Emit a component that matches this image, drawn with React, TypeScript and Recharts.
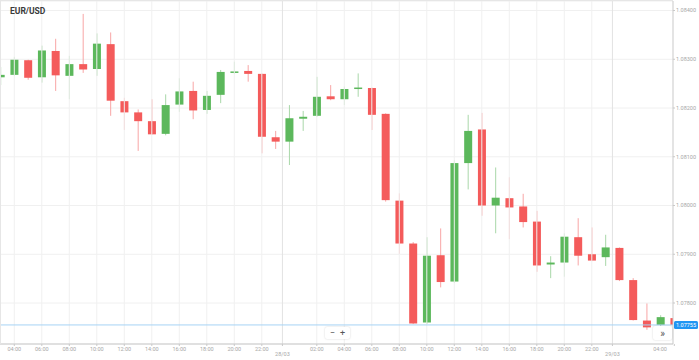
import React from "react";
import {
  ComposedChart,
  Bar,
  XAxis,
  YAxis,
  CartesianGrid,
  ReferenceLine,
} from "recharts";

// ─── Data ─────────────────────────────────────────────────────────────────────

// hourly candles, 27/03 03:00 → 29/03 04:00
const HOURS = [
  "03:00", "04:00", "05:00", "06:00", "07:00", "08:00", "09:00", "10:00",
  "11:00", "12:00", "13:00", "14:00", "15:00", "16:00", "17:00", "18:00",
  "19:00", "20:00", "21:00", "22:00", "23:00",
  "00:00", "01:00", "02:00", "03:00", "04:00", "05:00", "06:00", "07:00",
  "08:00", "09:00", "10:00", "11:00", "12:00", "13:00", "14:00", "15:00",
  "16:00", "17:00", "18:00", "19:00", "20:00", "21:00", "22:00", "23:00",
  "00:00", "01:00", "02:00", "03:00", "04:00",
];

const DATES = ["28/03", "29/03"];

const OPEN = [
  1.08263, 1.08268, 1.08298, 1.08263, 1.08317, 1.08266, 1.0829, 1.0828,
  1.08331, 1.08214, 1.08191, 1.08173, 1.08147, 1.08207, 1.08235, 1.08196,
  1.08227, 1.08273, 1.08276, 1.0827, 1.0814, 1.08131, 1.08178, 1.08184,
  1.08224, 1.08218, 1.0824, 1.08241, 1.08188, 1.0801, 1.07922, 1.0776,
  1.07898, 1.07844, 1.08087, 1.08156, 1.08, 1.08015, 1.07998, 1.07967,
  1.07879, 1.07883, 1.07935, 1.079, 1.07894, 1.07913, 1.07847, 1.07764,
  1.07755, 1.07769,
];

const HIGH = [
  1.08284, 1.08305, 1.08299, 1.08328, 1.08342, 1.08307, 1.08393, 1.08353,
  1.08355, 1.08221, 1.08197, 1.08218, 1.08228, 1.08261, 1.08254, 1.08235,
  1.08278, 1.08295, 1.08288, 1.08271, 1.08153, 1.08206, 1.08194, 1.08264,
  1.08247, 1.08244, 1.08271, 1.08242, 1.08189, 1.08025, 1.07925, 1.07935,
  1.07953, 1.08093, 1.08186, 1.0819, 1.08078, 1.08058, 1.08024, 1.07989,
  1.07896, 1.07943, 1.07974, 1.07955, 1.0794, 1.07914, 1.07851, 1.07799,
  1.07775, 1.07771,
];

const LOW = [
  1.08247, 1.08266, 1.08258, 1.08252, 1.08235, 1.08218, 1.08272, 1.08266,
  1.08184, 1.08155, 1.08112, 1.08145, 1.08144, 1.08192, 1.08177, 1.08188,
  1.0821, 1.0827, 1.08254, 1.08107, 1.08116, 1.08083, 1.08153, 1.08182,
  1.08216, 1.08206, 1.08223, 1.08155, 1.08008, 1.07901, 1.07757, 1.07757,
  1.07832, 1.07841, 1.08033, 1.07979, 1.07943, 1.07931, 1.07955, 1.07864,
  1.07851, 1.07854, 1.07877, 1.07886, 1.07876, 1.07845, 1.07764, 1.07745,
  1.07751, 1.07754,
];

const CLOSE = [
  1.08268, 1.08299, 1.08262, 1.08318, 1.08267, 1.0829, 1.08279, 1.08332,
  1.08215, 1.08191, 1.08173, 1.08146, 1.08206, 1.08234, 1.08195, 1.08225,
  1.08274, 1.08275, 1.0827, 1.08141, 1.08131, 1.08179, 1.08182, 1.08223,
  1.08218, 1.08239, 1.08242, 1.08186, 1.08011, 1.07922, 1.07758, 1.07897,
  1.07843, 1.08087, 1.08153, 1.08, 1.08016, 1.07996, 1.07966, 1.07877,
  1.07883, 1.07936, 1.07897, 1.07887, 1.07914, 1.07847, 1.07765, 1.0775,
  1.07771, 1.07755,
];

const PRICE_TICKS = [1.078, 1.079, 1.08, 1.081, 1.082, 1.083, 1.084];

// even hours (index into HOURS), day boundaries at x.5
const TIME_TICKS = [
  1, 3, 5, 7, 9, 11, 13, 15, 17, 19, 20.5, 23, 25, 27, 29, 31, 33, 35, 37, 39,
  41, 43, 44.5, 49,
];
const DAY_BREAKS = [20.5, 44.5];

const GREEN = "#5cb85c";
const RED = "#f45b5b";
const GREEN_WICK = "#a9d8a9";
const RED_WICK = "#f8a5a5";

const data = HOURS.map((h, i) => ({
  i,
  hour: h,
  open: OPEN[i],
  high: HIGH[i],
  low: LOW[i],
  close: CLOSE[i],
  range: [LOW[i], HIGH[i]],
}));

const last = CLOSE[CLOSE.length - 1];

// ─── Shapes ───────────────────────────────────────────────────────────────────

// eslint-disable-next-line @typescript-eslint/no-explicit-any
function Candle(props: any) {
  const { x, y, width, height, payload } = props;
  if (x == null || y == null) return null;
  const top = Math.min(y, y + height);
  const h = Math.abs(height);
  const { open, close, high, low } = payload;
  const k = high === low ? 0 : h / (high - low);
  const yO = top + (high - open) * k;
  const yC = top + (high - close) * k;
  const up = close >= open;
  const bodyTop = Math.min(yO, yC);
  const bodyH = Math.max(Math.abs(yO - yC), 1.5);
  const cx = x + width / 2;
  return (
    <g>
      <line x1={cx} x2={cx} y1={top} y2={top + h} stroke={up ? GREEN_WICK : RED_WICK} strokeWidth={1} />
      <rect x={x} y={bodyTop} width={width} height={bodyH} fill={up ? GREEN : RED} />
    </g>
  );
}

// eslint-disable-next-line @typescript-eslint/no-explicit-any
function TimeTick(props: any) {
  const { x, y, payload } = props;
  const v = payload.value;
  if (!Number.isInteger(v)) {
    return (
      <text x={x} y={y + 10} textAnchor="middle" fontSize={5.5} fill="#a8a8a8" fontFamily="Roboto">
        {DATES[v < 30 ? 0 : 1]}
      </text>
    );
  }
  return (
    <text x={Math.min(x, 660)} y={y + 4.5} textAnchor="middle" fontSize={5.5} fill="#a8a8a8" fontFamily="Roboto">
      {HOURS[v]}
    </text>
  );
}

// eslint-disable-next-line @typescript-eslint/no-explicit-any
function PriceLabel(props: any) {
  const vb = props.viewBox;
  if (!vb) return null;
  const x = vb.x + vb.width + 1;
  return (
    <g>
      <rect x={x} y={vb.y - 4} width={24} height={8} rx={1.5} fill="#2196f3" />
      <text x={x + 12} y={vb.y + 2} textAnchor="middle" fontSize={5.5} fill="#ffffff" fontFamily="Roboto">
        {last.toFixed(5)}
      </text>
    </g>
  );
}

// ─── Component ────────────────────────────────────────────────────────────────

const btn: React.CSSProperties = {
  position: "absolute",
  background: "#ffffff",
  boxShadow: "0 0 2px rgba(0,0,0,0.18)",
  borderRadius: 2,
  color: "#555",
  fontFamily: "Roboto, sans-serif",
  display: "flex",
  alignItems: "center",
  justifyContent: "center",
};

export default function App() {
  return (
    <div style={{ position: "relative", width: 699, height: 360, background: "#fff", overflow: "hidden" }}>
      <style>{"body{margin:0}"}</style>
      <ComposedChart width={699} height={360} data={data} margin={{ top: 1, right: 0, left: 0, bottom: 0 }}>
        <CartesianGrid stroke="#f0f0f0" vertical={false} />
        <XAxis
          type="number"
          dataKey="i"
          domain={[-0.04, 48.905]}
          allowDataOverflow
          ticks={TIME_TICKS}
          interval={0}
          height={16}
          tickSize={2}
          tickMargin={0}
          tick={<TimeTick />}
          axisLine={{ stroke: "#c9c9c9" }}
          tickLine={{ stroke: "#c9c9c9" }}
        />
        <YAxis
          orientation="right"
          domain={[1.077159, 1.084195]}
          allowDataOverflow
          ticks={PRICE_TICKS}
          width={26}
          tickSize={2}
          tickMargin={1}
          tickFormatter={(v: number) => v.toFixed(5)}
          tick={{ fontSize: 5.5, fill: "#a8a8a8", fontFamily: "Roboto", textAnchor: "start" }}
          axisLine={{ stroke: "#c9c9c9" }}
          tickLine={{ stroke: "#c9c9c9" }}
        />
        {TIME_TICKS.filter((t) => Number.isInteger(t) && t < 48.9).map((t) => (
          <ReferenceLine key={t} x={t} stroke="#f0f0f0" />
        ))}
        {DAY_BREAKS.map((t) => (
          <ReferenceLine key={"d" + t} x={t} stroke="#e2e2e2" />
        ))}
        <Bar dataKey="range" barSize={8} shape={<Candle />} isAnimationActive={false} />
        <ReferenceLine y={last} stroke="#a6d3f5" label={<PriceLabel />} />
      </ComposedChart>

      {/* frame */}
      <div
        style={{
          position: "absolute",
          left: 0,
          top: 0,
          width: 673,
          height: 344,
          borderTop: "1px solid #e6e6e6",
          borderLeft: "1px solid #e6e6e6",
          boxSizing: "border-box",
          pointerEvents: "none",
        }}
      />

      {/* title */}
      <div
        style={{
          position: "absolute",
          left: 10,
          top: 6,
          fontFamily: "Roboto, sans-serif",
          fontSize: 8.5,
          fontWeight: 700,
          color: "#3a3a3a",
        }}
      >
        EUR/USD
      </div>

      {/* zoom buttons */}
      <div style={{ ...btn, left: 325, top: 327, width: 25, height: 12, fontSize: 9, gap: 5 }}>
        <span>−</span>
        <span>+</span>
      </div>
      <div style={{ ...btn, left: 653, top: 326, width: 19, height: 14, fontSize: 10 }}>»</div>
    </div>
  );
}
